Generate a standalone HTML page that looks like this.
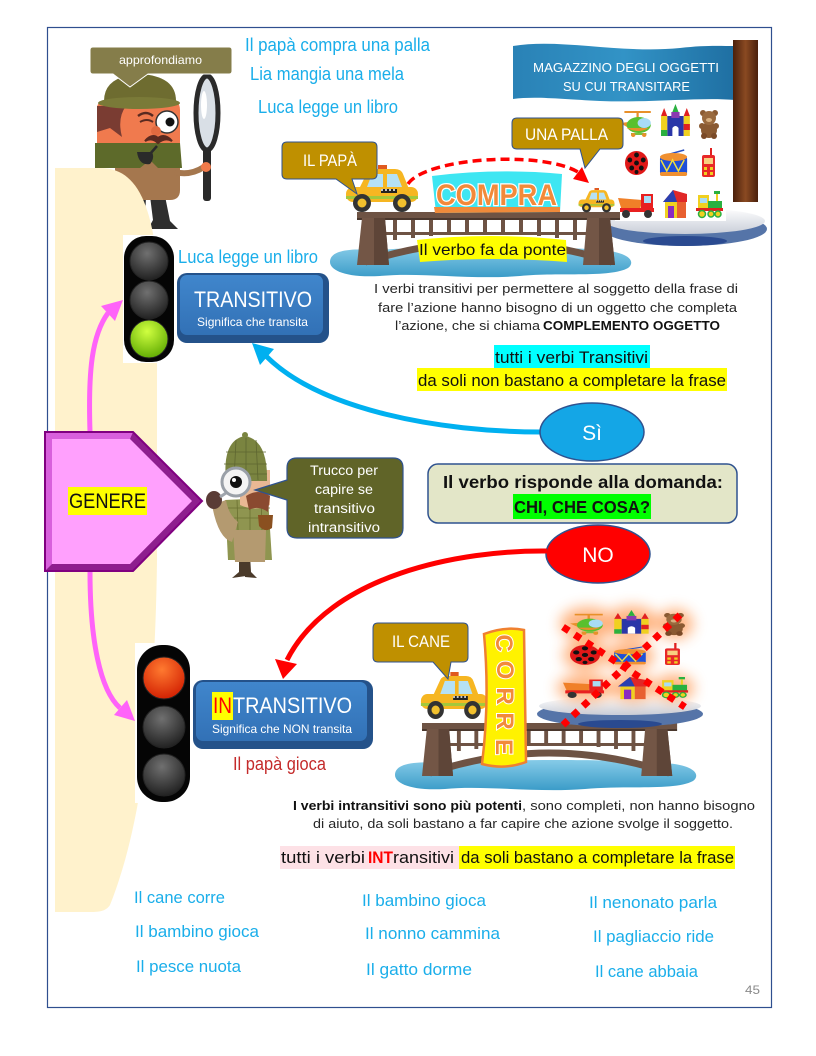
<!DOCTYPE html>
<html><head><meta charset="utf-8"><style>
html,body{margin:0;padding:0;background:#fff;}
svg{display:block}
text{font-family:"Liberation Sans",Arial,sans-serif;}
</style></head><body>
<svg width="816" height="1056" viewBox="0 0 816 1056" xmlns="http://www.w3.org/2000/svg">
<defs>
<radialGradient id="gGray" cx="0.45" cy="0.3" r="0.75"><stop offset="0" stop-color="#707070"/><stop offset="1" stop-color="#1c1c1c"/></radialGradient>
<radialGradient id="gGreen" cx="0.45" cy="0.3" r="0.75"><stop offset="0" stop-color="#d0ff40"/><stop offset="1" stop-color="#5ca800"/></radialGradient>
<radialGradient id="gRed" cx="0.45" cy="0.3" r="0.75"><stop offset="0" stop-color="#ff7a30"/><stop offset="1" stop-color="#d01c00"/></radialGradient>
<linearGradient id="gPole" x1="0" x2="1" y1="0" y2="0"><stop offset="0" stop-color="#4a200c"/><stop offset="0.5" stop-color="#8a4a22"/><stop offset="1" stop-color="#4a200c"/></linearGradient>
<linearGradient id="gFlag" x1="0" x2="1" y1="0" y2="0"><stop offset="0" stop-color="#2a82b6"/><stop offset="0.5" stop-color="#3293c6"/><stop offset="1" stop-color="#1f6fa2"/></linearGradient>
<linearGradient id="gWater" x1="0" x2="0" y1="0" y2="1"><stop offset="0" stop-color="#86cbe8"/><stop offset="1" stop-color="#3b9cc8"/></linearGradient>
<linearGradient id="gPlat" x1="0" x2="0" y1="0" y2="1"><stop offset="0" stop-color="#ffffff"/><stop offset="1" stop-color="#c8cdd8"/></linearGradient>
<linearGradient id="gBtn" x1="0" x2="0" y1="0" y2="1"><stop offset="0" stop-color="#4086cc"/><stop offset="1" stop-color="#3271b6"/></linearGradient>
<filter id="glow" x="-50%" y="-50%" width="200%" height="200%"><feGaussianBlur stdDeviation="7"/></filter>

<g id="car">
 <rect x="33" y="0" width="9" height="4" fill="#e05a20"/>
 <path d="M14 24 L22 8 Q24 4 30 4 L50 4 Q56 4 58 9 L64 24 Z" fill="#f6b622"/>
 <path d="M22 22 L27 9 L38 9 L38 22 Z" fill="#b5e1f5"/>
 <path d="M42 9 L52 9 L57 22 L42 22 Z" fill="#b5e1f5"/>
 <rect x="1" y="22" width="72" height="15" rx="7" fill="#f6b622"/>
 <rect x="1" y="31" width="72" height="3" fill="#a3c83c"/>
 <rect x="36" y="24" width="16" height="4" fill="#222"/>
 <line x1="36" y1="25" x2="52" y2="25" stroke="#fff" stroke-width="1.5" stroke-dasharray="2 2"/>
 <circle cx="17" cy="38" r="9" fill="#333"/><circle cx="17" cy="38" r="4.5" fill="#f2c12e"/>
 <circle cx="57" cy="38" r="9" fill="#333"/><circle cx="57" cy="38" r="4.5" fill="#f2c12e"/>
</g>

<g id="bridge">
 <path d="M8 50 Q131 10 255 50" fill="none" stroke="#6e5344" stroke-width="7"/>
 <rect x="20" y="20" width="225" height="3" fill="#6e5344"/>
 <g fill="#6e5344">
  <rect x="36" y="8" width="4" height="20"/><rect x="54" y="8" width="4" height="18"/><rect x="72" y="8" width="4" height="16"/>
  <rect x="90" y="8" width="4" height="14"/><rect x="108" y="8" width="4" height="14"/><rect x="126" y="8" width="4" height="14"/>
  <rect x="144" y="8" width="4" height="14"/><rect x="162" y="8" width="4" height="14"/><rect x="180" y="8" width="4" height="16"/>
  <rect x="198" y="8" width="4" height="18"/><rect x="216" y="8" width="4" height="20"/>
 </g>
 <rect x="0" y="0" width="263" height="6" fill="#6e5344"/>
 <rect x="0" y="6" width="263" height="2" fill="#4a372d"/>
 <path d="M5 6 L28 6 L32 53 L0 53 Z" fill="#735646"/>
 <path d="M17 6 L28 6 L32 53 L17 53 Z" fill="#5e4538"/>
 <path d="M230 6 L253 6 L258 53 L226 53 Z" fill="#735646"/>
 <path d="M242 6 L253 6 L258 53 L242 53 Z" fill="#5e4538"/>
</g>

<g id="water">
 <path d="M330 262 C330 250 350 248 380 250 C420 246 560 246 600 250 C630 252 636 262 628 268 C610 278 560 272 520 276 C470 280 420 272 380 276 C345 278 330 270 330 262 Z" fill="url(#gWater)"/>
</g>

<g id="heli">
 <rect x="4" y="1" width="24" height="2" fill="#e8902a"/>
 <rect x="15" y="2" width="2" height="6" fill="#e8902a"/>
 <path d="M0 13 L8 12 L8 18 Z" fill="#e8902a"/>
 <ellipse cx="17" cy="15" rx="11" ry="8" fill="#59c02e"/>
 <ellipse cx="22" cy="13" rx="6" ry="5" fill="#a8dcf5"/>
 <path d="M6 18 Q17 24 26 18 Z" fill="#e8902a"/>
 <rect x="10" y="23" width="14" height="2" fill="#7ac040"/>
 <circle cx="12" cy="25" r="2" fill="#e8902a"/><circle cx="22" cy="25" r="2" fill="#e8902a"/>
</g>
<g id="castle">
 <rect x="7" y="12" width="16" height="20" fill="#2a36a8"/>
 <path d="M12 32 V24 Q15 20 18 24 V32 Z" fill="#fff"/>
 <rect x="11" y="8" width="8" height="6" fill="#8a3ab0"/>
 <path d="M12 8 L15 0 L18 8 Z" fill="#2ab040"/>
 <rect x="1" y="12" width="6" height="20" fill="#f0d020"/>
 <rect x="1" y="26" width="6" height="6" fill="#2ab040"/>
 <path d="M1 12 L4 4 L7 12 Z" fill="#e02020"/>
 <rect x="23" y="12" width="6" height="20" fill="#f0d020"/>
 <rect x="23" y="20" width="6" height="6" fill="#e02020"/>
 <path d="M23 12 L26 4 L29 12 Z" fill="#e02020"/>
</g>
<g id="bear">
 <circle cx="4" cy="3" r="3" fill="#8a5a32"/><circle cx="16" cy="3" r="3" fill="#8a5a32"/>
 <ellipse cx="10" cy="20" rx="8" ry="8" fill="#8a5a32"/>
 <circle cx="3" cy="16" r="3" fill="#8a5a32"/><circle cx="17" cy="16" r="3" fill="#8a5a32"/>
 <circle cx="10" cy="8" r="7" fill="#9a6a3e"/>
 <ellipse cx="10" cy="10" rx="3" ry="2" fill="#d8b080"/>
 <circle cx="5" cy="26" r="3" fill="#7a4a28"/><circle cx="15" cy="26" r="3" fill="#7a4a28"/>
</g>
<g id="ball">
 <circle cx="12" cy="12" r="12" fill="#e01818"/>
 <g fill="#111"><circle cx="12" cy="4" r="2.5"/><circle cx="5" cy="9" r="2.5"/><circle cx="19" cy="9" r="2.5"/><circle cx="12" cy="12" r="2.5"/><circle cx="7" cy="17" r="2.5"/><circle cx="17" cy="17" r="2.5"/><circle cx="12" cy="21" r="2"/></g>
</g>
<g id="drum">
 <line x1="4" y1="6" x2="26" y2="0" stroke="#2a50c0" stroke-width="1.5"/>
 <rect x="1" y="6" width="28" height="19" rx="3" fill="#1e50d8"/>
 <ellipse cx="15" cy="7" rx="14" ry="4" fill="#f09030"/>
 <rect x="1" y="22" width="28" height="4" rx="2" fill="#f09030"/>
 <path d="M2 10 L8 21 L14 10 L20 21 L26 10" fill="none" stroke="#f0e040" stroke-width="1.5"/>
</g>
<g id="walkie">
 <rect x="8" y="0" width="2" height="8" fill="#e02020"/>
 <rect x="0" y="7" width="13" height="22" rx="2" fill="#e82828"/>
 <rect x="2" y="10" width="9" height="6" fill="#f8d080"/>
 <rect x="2" y="19" width="3" height="3" fill="#f0d020"/><rect x="8" y="19" width="3" height="3" fill="#f0d020"/>
 <rect x="2" y="24" width="3" height="3" fill="#f0d020"/><rect x="8" y="24" width="3" height="3" fill="#f0d020"/>
</g>
<g id="truck">
 <path d="M0 6 L24 8 L22 19 L4 19 Z" fill="#f08028"/>
 <rect x="23" y="2" width="12" height="16" fill="#e82020"/>
 <rect x="26" y="4" width="7" height="7" fill="#a8dcf5"/>
 <rect x="2" y="16" width="34" height="4" fill="#e82020"/>
 <circle cx="8" cy="22" r="4" fill="#333"/><circle cx="30" cy="22" r="4" fill="#333"/>
</g>
<g id="house">
 <path d="M0 12 L10 0 L24 4 L24 12 Z" fill="#e02828"/>
 <path d="M0 12 L10 0 L14 12 Z" fill="#2a40b0"/>
 <rect x="2" y="12" width="12" height="16" fill="#f0d020"/>
 <rect x="5" y="16" width="6" height="12" fill="#8a2ac0"/>
 <rect x="14" y="12" width="9" height="16" fill="#e86030"/>
</g>
<g id="train">
 <rect x="18" y="0" width="6" height="3" fill="#2ab040"/>
 <rect x="20" y="3" width="2" height="7" fill="#f0d020"/>
 <rect x="2" y="4" width="11" height="14" fill="#f0d020"/>
 <rect x="4" y="7" width="7" height="5" fill="#a8dcf5"/>
 <rect x="12" y="10" width="14" height="8" fill="#2ab040"/>
 <rect x="0" y="17" width="27" height="3" fill="#e02020"/>
 <circle cx="6" cy="23" r="3.5" fill="#f0d020" stroke="#2ab040" stroke-width="1.5"/>
 <circle cx="15" cy="23" r="3" fill="#f0d020" stroke="#2ab040" stroke-width="1.5"/>
 <circle cx="22" cy="23" r="3" fill="#f0d020" stroke="#2ab040" stroke-width="1.5"/>
</g>
</defs>

<rect width="816" height="1056" fill="#fff"/>
<rect x="47.5" y="27.5" width="724" height="980" fill="none" stroke="#2f4f8f" stroke-width="1.2"/>

<!-- top detective -->
<g>
 <path d="M130 196 L133 222 L126 229 L150 229 L145 222 L146 196 Z" fill="#2e2e2e"/>
 <path d="M150 196 L153 220 L148 229 L178 229 L170 221 L165 196 Z" fill="#2e2e2e"/>
 <path d="M115 160 L180 160 L180 190 Q180 200 170 200 L125 200 Q115 200 115 190 Z" fill="#a5774e"/>
 <path d="M175 172 Q190 176 204 167" stroke="#a5774e" stroke-width="6" fill="none"/>
 <rect x="203" y="148" width="8" height="53" rx="3" fill="#2a2a2a"/>
 <circle cx="206" cy="167" r="5" fill="#f07a4a"/>
 <ellipse cx="207" cy="113" rx="11" ry="37" fill="#d9dfe6" stroke="#2a2a2a" stroke-width="5"/>
 <ellipse cx="204" cy="105" rx="3" ry="14" fill="#fff"/>
 <path d="M97 108 Q97 100 110 100 L170 100 Q180 100 180 110 L180 150 L97 150 Z" fill="#f07a4e"/>
 <path d="M97 106 L126 106 Q117 118 122 137 L110 128 L97 132 Z" fill="#7a3c32"/>
 <path d="M95 143 L180 143 L182 168 L158 168 L150 160 L140 168 L95 168 Z" fill="#5d6a2a"/>
 <circle cx="167" cy="122" r="11" fill="#fff" stroke="#333" stroke-width="1.5"/>
 <circle cx="170" cy="122" r="4.5" fill="#111"/>
 <path d="M138 116 Q146 110 153 116" stroke="#5a2a20" stroke-width="2.5" fill="none"/>
 <path d="M140 122 Q147 118 153 122" stroke="#5a2a20" stroke-width="2" fill="none"/>
 <circle cx="156" cy="131" r="5" fill="#e06a40"/>
 <path d="M145 141 Q152 133 158 138 Q165 133 172 141 Q165 137 158 143 Q152 137 145 141 Z" fill="#5a2a20" stroke="#5a2a20" stroke-width="2"/>
 <path d="M137 152 Q139 166 150 164 Q155 158 152 152 Z" fill="#2a2a2a"/>
 <line x1="150" y1="154" x2="157" y2="146" stroke="#2a2a2a" stroke-width="2.5"/>
 <path d="M104 101 Q104 76 140 74 Q176 76 176 101 Z" fill="#6e6c30"/>
 <ellipse cx="139" cy="103" rx="41" ry="6" fill="#7a7a38"/>
</g>
<!-- approfondiamo callout -->
<path d="M93 47 H229 Q232 47 232 50 V71 Q232 74 229 74 H148 L130 87 L113 74 H93 Q90 74 90 71 V50 Q90 47 93 47 Z" fill="#857d4a" stroke="#fff" stroke-width="1"/>
<text x="119" y="64" font-size="12" fill="#fff" textLength="83" lengthAdjust="spacingAndGlyphs">approfondiamo</text>

<!-- beige panel -->
<path d="M55 168 L100 168 C135 168 150 200 157 260 L157 560 C155 720 140 830 110 905 C106 911 100 912 90 912 L55 912 Z" fill="#fff2cc"/>

<!-- top sentences -->
<g fill="#1aaeea" font-size="18">
<text x="245" y="51" textLength="185" lengthAdjust="spacingAndGlyphs">Il papà compra una palla</text>
<text x="250" y="80" textLength="154" lengthAdjust="spacingAndGlyphs">Lia mangia una mela</text>
<text x="258" y="113" textLength="140" lengthAdjust="spacingAndGlyphs">Luca legge un libro</text>
</g>

<!-- banner & pole -->
<path d="M513 46 C560 38 620 54 680 48 C705 45 720 46 735 46 L735 100 C700 97 650 103 600 101 C560 99 535 96 513 99 Z" fill="url(#gFlag)"/>
<rect x="733" y="40" width="25" height="162" fill="url(#gPole)"/>
<text x="533" y="72" font-size="13" fill="#fff" textLength="186" lengthAdjust="spacingAndGlyphs">MAGAZZINO DEGLI OGGETTI</text>
<text x="563" y="91" font-size="13" fill="#fff" textLength="127" lengthAdjust="spacingAndGlyphs">SU CUI TRANSITARE</text>

<!-- platform 1 -->
<ellipse cx="685" cy="229" rx="82" ry="17" fill="#5574a8"/>
<ellipse cx="685" cy="241" rx="42" ry="5" fill="#2a4a90"/>
<ellipse cx="685" cy="221" rx="80" ry="13" fill="url(#gPlat)"/>
<rect x="615" y="102" width="111" height="119" fill="#fff"/>
<use href="#heli" transform="translate(620,110) scale(1.1,1)"/>
<use href="#castle" transform="translate(660,104) scale(1.03,1)"/>
<use href="#bear" transform="translate(699,110)"/>
<use href="#ball" transform="translate(625,151) scale(0.96,1)"/>
<use href="#drum" transform="translate(659,150) scale(0.97,1)"/>
<use href="#walkie" transform="translate(702,148)"/>
<use href="#truck" transform="translate(618,192)"/>
<use href="#house" transform="translate(663,190)"/>
<use href="#train" transform="translate(696,191)"/>

<!-- bridge 1 -->
<use href="#water"/>
<use href="#bridge" transform="translate(357,212)"/>
<use href="#car" transform="translate(345,165)"/>
<use href="#car" transform="translate(578,188) scale(0.5,0.52)"/>

<!-- dashed arc -->
<path d="M408 184 C425 158 540 150 578 172" fill="none" stroke="#ff0000" stroke-width="3.5" stroke-dasharray="9 5"/>
<polygon points="589,183 573,179 582,167" fill="#ff0000"/>

<!-- COMPRA sign -->
<path d="M432 176 Q497 168 562 174 L560 212 L436 213 Z" fill="#3ee6f2"/>
<path d="M434 207 L560 207 L560 212 L435 213 Z" fill="#f08a3a"/>
<text x="436" y="205" font-size="30" font-weight="bold" fill="#f28a3a" stroke="#fff" stroke-width="2.5" paint-order="stroke" textLength="121" lengthAdjust="spacingAndGlyphs">COMPRA</text>

<!-- Il verbo fa da ponte -->
<path d="M417 240 Q490 232 566 240 L567 262 Q490 256 420 262 Z" fill="#ffff00"/>
<text x="419" y="255" font-size="16" fill="#111" textLength="147" lengthAdjust="spacingAndGlyphs">Il verbo fa da ponte</text>

<!-- callouts -->
<path d="M287 142 H372 Q377 142 377 147 V174 Q377 179 372 179 H352 L357 194 L336 179 H287 Q282 179 282 174 V147 Q282 142 287 142 Z" fill="#bf9000" stroke="#2f528f" stroke-width="1"/>
<text x="303" y="166" font-size="17" fill="#fff" textLength="54" lengthAdjust="spacingAndGlyphs">IL PAPÀ</text>
<path d="M517 118 H618 Q623 118 623 123 V144 Q623 149 618 149 H600 L585 168 L580 149 H517 Q512 149 512 144 V123 Q512 118 517 118 Z" fill="#bf9000" stroke="#2f528f" stroke-width="1"/>
<text x="525" y="140" font-size="17" fill="#fff" textLength="83" lengthAdjust="spacingAndGlyphs">UNA PALLA</text>

<!-- pink arrows -->
<path d="M90 432 C88 370 92 335 108 313" fill="none" stroke="#ff63f9" stroke-width="5"/>
<polygon points="123,300 101,306 115,321" fill="#ff63f9"/>
<path d="M90 572 C90 640 100 690 120 708" fill="none" stroke="#ff63f9" stroke-width="5"/>
<polygon points="135,721 114,715 127,700" fill="#ff63f9"/>

<!-- GENERE -->
<polygon points="45,432 133,432 202,501 133,571 45,571" fill="#8e1e8e"/>
<polygon points="45,432 133,432 130,439 52,439 52,564 45,571" fill="#d860dc"/>
<polygon points="52,439 130,439 192,501 130,564 52,564" fill="#ffa0fd"/>
<polygon points="45,432 133,432 202,501 133,571 45,571" fill="none" stroke="#800080" stroke-width="2"/>
<rect x="68" y="487" width="79" height="28" fill="#ffff00"/>
<text x="69" y="508" font-size="21" fill="#111" textLength="77" lengthAdjust="spacingAndGlyphs">GENERE</text>

<!-- traffic light 1 -->
<rect x="123" y="235" width="52" height="128" fill="#fff"/>
<rect x="124" y="236" width="50" height="126" rx="22" fill="#050505"/>
<circle cx="149" cy="261" r="19" fill="url(#gGray)" stroke="#222" stroke-width="1"/>
<circle cx="149" cy="300" r="19" fill="url(#gGray)" stroke="#222" stroke-width="1"/>
<circle cx="149" cy="339" r="19" fill="url(#gGreen)" stroke="#222" stroke-width="1"/>

<text x="178" y="263" font-size="18" fill="#1aaeea" textLength="140" lengthAdjust="spacingAndGlyphs">Luca legge un libro</text>

<!-- TRANSITIVO -->
<rect x="177" y="273" width="152" height="70" rx="10" fill="#24528a"/>
<rect x="180" y="275" width="143" height="60" rx="7" fill="url(#gBtn)"/>
<text x="194" y="307" font-size="22" fill="#fff" textLength="118" lengthAdjust="spacingAndGlyphs">TRANSITIVO</text>
<text x="197" y="326" font-size="12" fill="#fff" textLength="111" lengthAdjust="spacingAndGlyphs">Significa che transita</text>

<!-- paragraph 1 -->
<g font-size="13" fill="#262626">
<text x="374" y="293" textLength="364" lengthAdjust="spacingAndGlyphs">I verbi transitivi per permettere al soggetto della frase di</text>
<text x="378" y="312" textLength="359" lengthAdjust="spacingAndGlyphs">fare l’azione hanno bisogno di un oggetto che completa</text>
<text x="395" y="330" textLength="145" lengthAdjust="spacingAndGlyphs">l’azione, che si chiama</text>
<text x="543" y="330" font-weight="bold" fill="#111" textLength="177" lengthAdjust="spacingAndGlyphs">COMPLEMENTO OGGETTO</text>
</g>
<rect x="494" y="345" width="156" height="23" fill="#00ffff"/>
<text x="495" y="363" font-size="17" fill="#111" textLength="153" lengthAdjust="spacingAndGlyphs">tutti i verbi Transitivi</text>
<rect x="417" y="368" width="310" height="23" fill="#ffff00"/>
<text x="418" y="386" font-size="17" fill="#111" textLength="308" lengthAdjust="spacingAndGlyphs">da soli non bastano a completare la frase</text>

<!-- blue arrow -->
<path d="M541 432 C440 432 320 410 266 356" fill="none" stroke="#00b0f0" stroke-width="5"/>
<polygon points="252,343 274,349 260,365" fill="#00b0f0"/>

<!-- Sì -->
<ellipse cx="592" cy="432" rx="52" ry="29" fill="#14a6e6" stroke="#2f528f" stroke-width="1.5"/>
<text x="592" y="440" font-size="21" fill="#fff" text-anchor="middle">Sì</text>

<!-- question box -->
<rect x="428" y="464" width="309" height="59" rx="10" fill="#e3e6c8" stroke="#2f528f" stroke-width="1.5"/>
<text x="443" y="488" font-size="17.5" font-weight="bold" fill="#111" textLength="280" lengthAdjust="spacingAndGlyphs">Il verbo risponde alla domanda:</text>
<rect x="513" y="494" width="138" height="25" fill="#00ff00"/>
<text x="514" y="513" font-size="17.5" font-weight="bold" fill="#111" textLength="136" lengthAdjust="spacingAndGlyphs">CHI, CHE COSA?</text>

<!-- NO -->
<ellipse cx="598" cy="554" rx="52" ry="29" fill="#ff0000" stroke="#2f528f" stroke-width="1.5"/>
<text x="598" y="562" font-size="21" fill="#fff" text-anchor="middle">NO</text>

<!-- red arrow -->
<path d="M547 551 C460 550 330 575 287 660" fill="none" stroke="#ff0000" stroke-width="5"/>
<polygon points="283,679 275,659 297,664" fill="#ff0000"/>

<!-- middle detective -->
<g>
 <path d="M239 555 L239 572 L232 578 L246 576 L247 555 Z" fill="#4a3a2a"/>
 <path d="M250 555 L251 572 L257 578 L245 577 L244 555 Z" fill="#4a3a2a"/>
 <path d="M225 500 L268 498 L272 560 L228 560 Z" fill="#8f9550"/>
 <path d="M233 530 L266 530 L265 562 L235 562 Z" fill="#b49a70"/>
 <g stroke="#6a7030" stroke-width="0.8" fill="none">
  <line x1="226" y1="508" x2="270" y2="508"/><line x1="227" y1="518" x2="270" y2="518"/>
  <line x1="237" y1="500" x2="238" y2="530"/><line x1="250" y1="499" x2="250" y2="530"/><line x1="261" y1="499" x2="262" y2="530"/>
 </g>
 <path d="M212 505 Q218 538 232 542 L238 522 Q228 514 226 500 Z" fill="#b49a70"/>
 <ellipse cx="214" cy="500" rx="8" ry="9" fill="#5a3c36"/>
 <path d="M240 470 L270 470 L270 505 Q255 512 240 505 Z" fill="#eab894"/>
 <path d="M246 496 Q258 488 270 496 L268 512 Q258 505 249 510 Z" fill="#8a4a30"/>
 <path d="M258 515 L273 515 L272 528 Q265 533 259 526 Z" fill="#8a5020"/>
 <path d="M226 481 Q222 440 245 436 Q268 440 267 481 Z" fill="#7a8440"/>
 <g stroke="#5e6630" stroke-width="0.8" fill="none">
  <line x1="226" y1="452" x2="266" y2="452"/><line x1="224" y1="464" x2="267" y2="464"/><line x1="225" y1="474" x2="267" y2="474"/>
  <line x1="236" y1="440" x2="234" y2="480"/><line x1="246" y1="436" x2="246" y2="480"/><line x1="256" y1="440" x2="258" y2="480"/>
 </g>
 <circle cx="245" cy="435" r="3" fill="#7a8440"/>
 <line x1="220" y1="497" x2="229" y2="491" stroke="#a0a6ae" stroke-width="3"/>
 <circle cx="236" cy="482" r="14" fill="#f4f4f4" stroke="#9aa0a8" stroke-width="3"/>
 <circle cx="236" cy="482" r="6" fill="#111"/><circle cx="234" cy="480" r="2" fill="#fff"/>
</g>

<!-- Trucco callout -->
<path d="M297 458 H393 Q403 458 403 468 V528 Q403 538 393 538 H297 Q287 538 287 528 V500 L255 490 L287 480 V468 Q287 458 297 458 Z" fill="#606428" stroke="#2f528f" stroke-width="1.2"/>
<g font-size="13.5" fill="#fff">
<text x="310" y="475" textLength="68" lengthAdjust="spacingAndGlyphs">Trucco per</text>
<text x="315" y="494" textLength="58" lengthAdjust="spacingAndGlyphs">capire se</text>
<text x="314" y="513" textLength="61" lengthAdjust="spacingAndGlyphs">transitivo</text>
<text x="308" y="532" textLength="72" lengthAdjust="spacingAndGlyphs">intransitivo</text>
</g>

<!-- traffic light 2 -->
<rect x="135" y="643" width="55" height="160" fill="#fff"/>
<rect x="137" y="645" width="53" height="157" rx="25" fill="#050505"/>
<circle cx="164" cy="678" r="21" fill="url(#gRed)" stroke="#222" stroke-width="1"/>
<circle cx="164" cy="727" r="21" fill="url(#gGray)" stroke="#222" stroke-width="1"/>
<circle cx="164" cy="775" r="21" fill="url(#gGray)" stroke="#222" stroke-width="1"/>

<!-- INTRANSITIVO -->
<rect x="193" y="680" width="180" height="69" rx="10" fill="#24528a"/>
<rect x="196" y="682" width="171" height="59" rx="7" fill="url(#gBtn)"/>
<rect x="212" y="692" width="21" height="28" fill="#ffff00"/>
<text x="213" y="713" font-size="22" fill="#ff0000" textLength="19" lengthAdjust="spacingAndGlyphs">IN</text>
<text x="233" y="713" font-size="22" fill="#fff" textLength="119" lengthAdjust="spacingAndGlyphs">TRANSITIVO</text>
<text x="212" y="733" font-size="12" fill="#fff" textLength="140" lengthAdjust="spacingAndGlyphs">Significa che NON transita</text>
<text x="233" y="770" font-size="18" fill="#c42b2b" textLength="93" lengthAdjust="spacingAndGlyphs">Il papà gioca</text>

<!-- bridge 2 scene -->
<use href="#water" transform="translate(65,513)"/>
<use href="#bridge" transform="translate(422,723) scale(0.97,1)"/>
<ellipse cx="620" cy="714" rx="83" ry="13" fill="#5574a8"/>
<ellipse cx="620" cy="724" rx="42" ry="4" fill="#2a4a90"/>
<ellipse cx="620" cy="706" rx="81" ry="9" fill="url(#gPlat)"/>
<g filter="url(#glow)" fill="#ff8a3a" opacity="0.65">
 <ellipse cx="588" cy="624" rx="28" ry="17"/>
 <ellipse cx="632" cy="622" rx="26" ry="16"/>
 <ellipse cx="675" cy="624" rx="18" ry="15"/>
 <ellipse cx="585" cy="655" rx="22" ry="15"/>
 <ellipse cx="630" cy="656" rx="24" ry="15"/>
 <ellipse cx="585" cy="688" rx="28" ry="14"/>
 <ellipse cx="633" cy="688" rx="22" ry="14"/>
 <ellipse cx="674" cy="688" rx="20" ry="14"/>
</g>
<use href="#heli" transform="translate(570,613) scale(1.17,0.81)"/>
<use href="#castle" transform="translate(613,610) scale(1.23,0.74)"/>
<use href="#bear" transform="translate(663,613) scale(1.1,0.79)"/>
<use href="#ball" transform="translate(570,645) scale(1.25,0.83)"/>
<use href="#drum" transform="translate(613,647) scale(1.13,0.67)"/>
<use href="#walkie" transform="translate(665,643) scale(1.15,0.76)"/>
<use href="#truck" transform="translate(563,678) scale(1.14,0.77)"/>
<use href="#house" transform="translate(618,677) scale(1.2,0.79)"/>
<use href="#train" transform="translate(660,677) scale(1.04,0.78)"/>
<line x1="563" y1="627" x2="685" y2="707" stroke="#ff0000" stroke-width="7" stroke-dasharray="7 7"/>
<line x1="680" y1="615" x2="563" y2="725" stroke="#ff0000" stroke-width="7" stroke-dasharray="7 7"/>

<use href="#car" transform="translate(420,672) scale(0.92,1)"/>

<!-- CORRE banner -->
<path d="M484 634 Q505 626 524 630 L526 762 Q505 770 482 764 Q490 700 484 634 Z" fill="#fff200" stroke="#f08030" stroke-width="2.5"/>
<g font-size="24" font-weight="bold" fill="#f28a3a" stroke="#fff" stroke-width="2" paint-order="stroke" text-anchor="middle">
<text transform="translate(496,643) rotate(90)">C</text>
<text transform="translate(497,670) rotate(90)">O</text>
<text transform="translate(497,696) rotate(90)">R</text>
<text transform="translate(497,721) rotate(90)">R</text>
<text transform="translate(496,747) rotate(90)">E</text>
</g>

<!-- IL CANE callout -->
<path d="M378 623 H463 Q468 623 468 628 V657 Q468 662 463 662 H451 L448 679 L433 662 H378 Q373 662 373 657 V628 Q373 623 378 623 Z" fill="#bf9000" stroke="#2f528f" stroke-width="1"/>
<text x="392" y="647" font-size="17" fill="#fff" textLength="58" lengthAdjust="spacingAndGlyphs">IL CANE</text>

<!-- bottom paragraph -->
<g font-size="13" fill="#262626">
<text x="293" y="810" font-weight="bold" fill="#111" textLength="229" lengthAdjust="spacingAndGlyphs">I verbi intransitivi sono più potenti</text>
<text x="522" y="810" textLength="233" lengthAdjust="spacingAndGlyphs">, sono completi, non hanno bisogno</text>
<text x="313" y="828" textLength="420" lengthAdjust="spacingAndGlyphs">di aiuto, da soli bastano a far capire che azione svolge il soggetto.</text>
</g>
<rect x="280" y="846" width="179" height="23" fill="#fde1e6"/>
<rect x="459" y="846" width="276" height="23" fill="#ffff00"/>
<g font-size="17" fill="#111">
<text x="281" y="863" textLength="84" lengthAdjust="spacingAndGlyphs">tutti i verbi</text>
<text x="368" y="863" font-weight="bold" fill="#ff0000" textLength="25" lengthAdjust="spacingAndGlyphs">INT</text>
<text x="393" y="863" textLength="61" lengthAdjust="spacingAndGlyphs">ransitivi</text>
<text x="461" y="863" textLength="273" lengthAdjust="spacingAndGlyphs">da soli bastano a completare la frase</text>
</g>

<!-- columns -->
<g font-size="17" fill="#1aaeea">
<text x="134" y="903" textLength="91" lengthAdjust="spacingAndGlyphs">Il cane corre</text>
<text x="135" y="937" textLength="124" lengthAdjust="spacingAndGlyphs">Il bambino gioca</text>
<text x="136" y="972" textLength="105" lengthAdjust="spacingAndGlyphs">Il pesce nuota</text>
<text x="362" y="906" textLength="124" lengthAdjust="spacingAndGlyphs">Il bambino gioca</text>
<text x="365" y="939" textLength="135" lengthAdjust="spacingAndGlyphs">Il nonno cammina</text>
<text x="366" y="975" textLength="106" lengthAdjust="spacingAndGlyphs">Il gatto dorme</text>
<text x="589" y="908" textLength="128" lengthAdjust="spacingAndGlyphs">Il nenonato parla</text>
<text x="593" y="942" textLength="121" lengthAdjust="spacingAndGlyphs">Il pagliaccio ride</text>
<text x="595" y="977" textLength="103" lengthAdjust="spacingAndGlyphs">Il cane abbaia</text>
</g>
<text x="745" y="994" font-size="12" fill="#8a8a8a" textLength="15" lengthAdjust="spacingAndGlyphs">45</text>
</svg>
</body></html>
